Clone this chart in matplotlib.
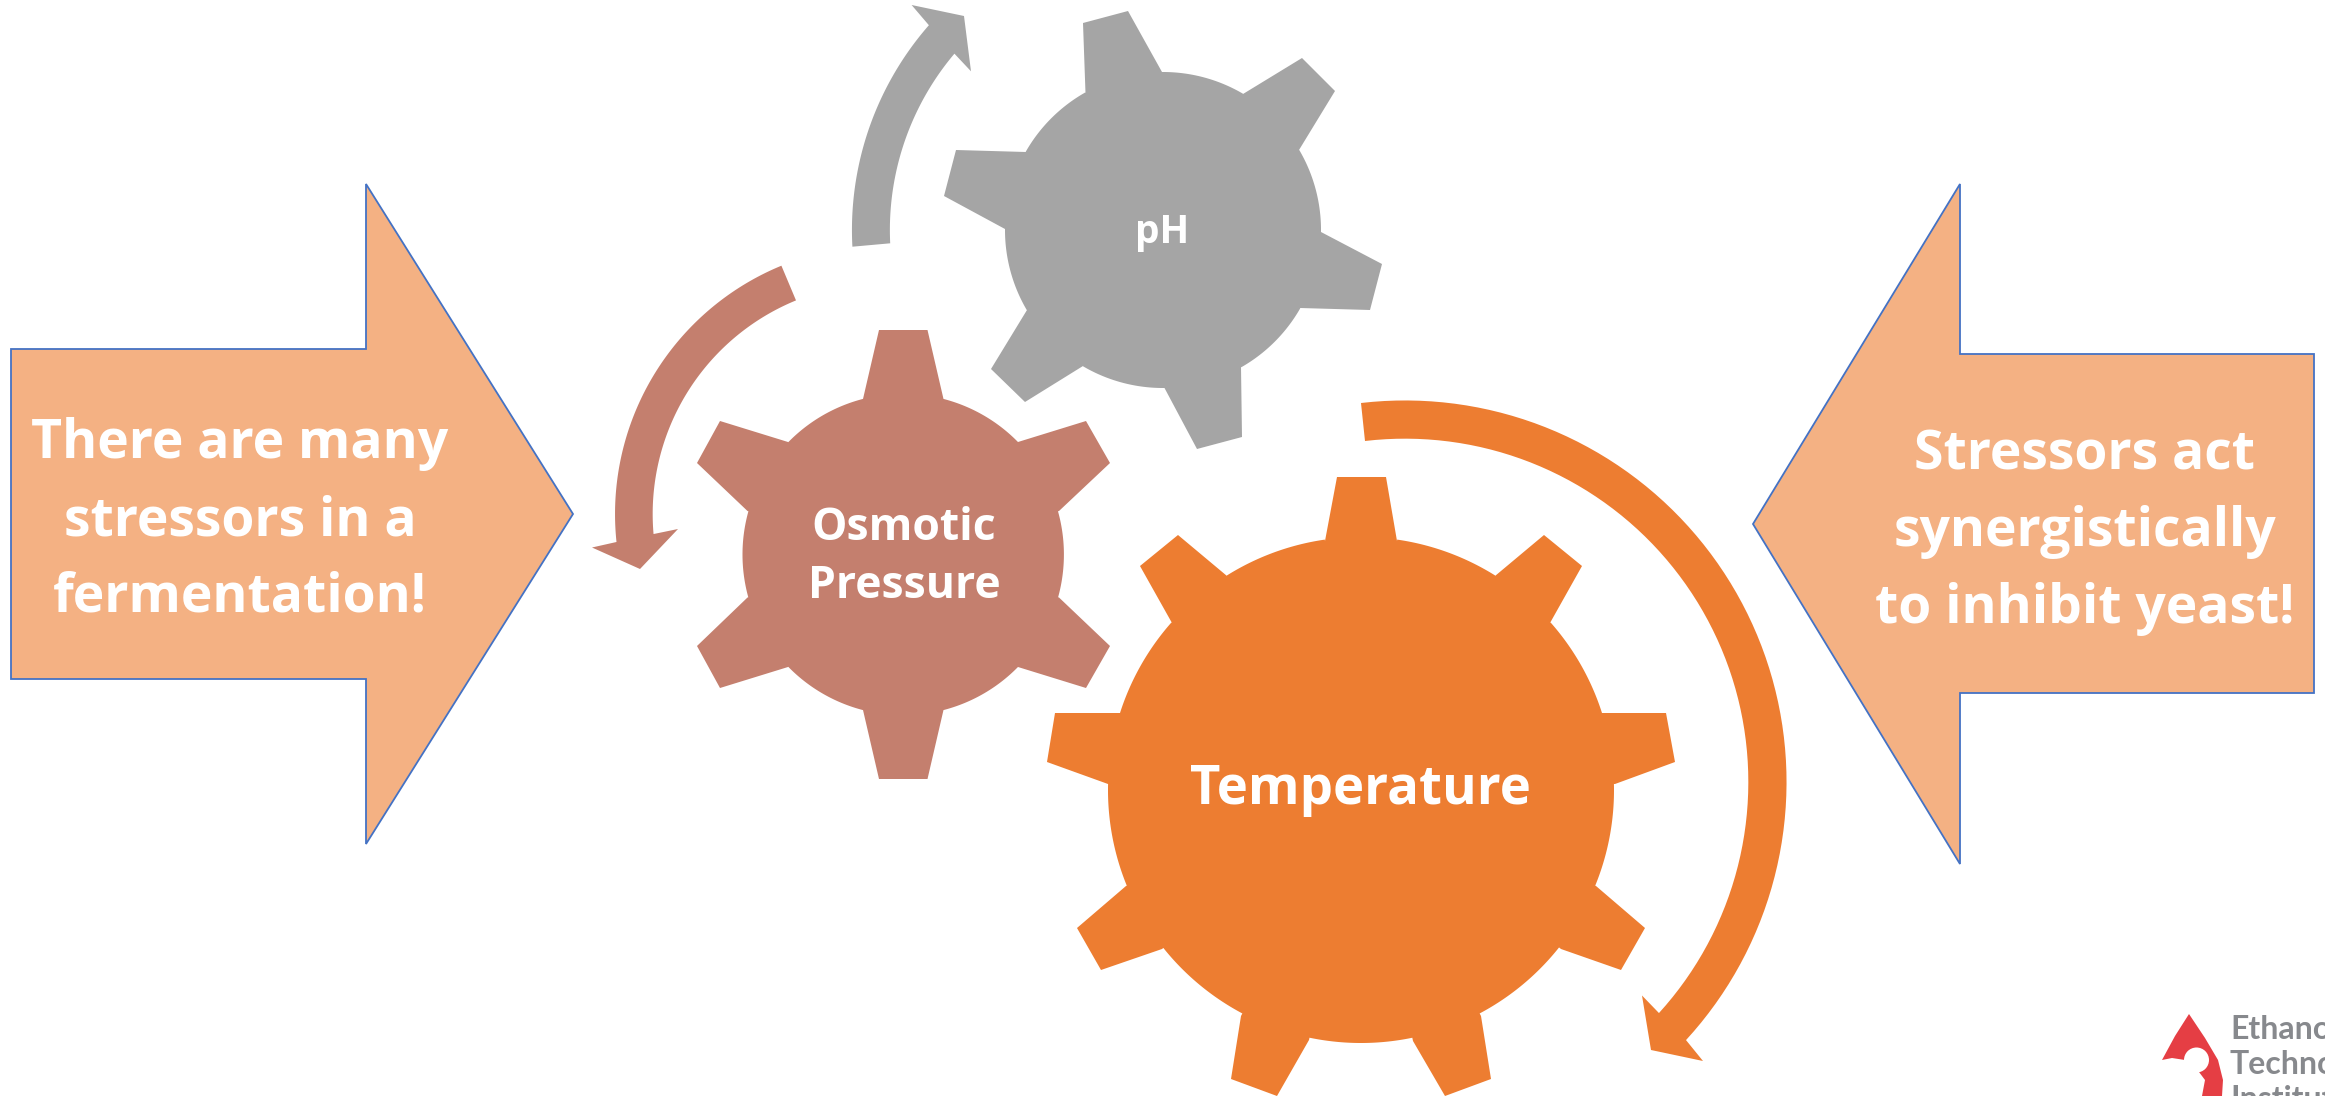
#!/usr/bin/env python

import numpy as np
import matplotlib
matplotlib.use('Agg')
import matplotlib.pyplot as plt
from matplotlib.patches import Circle, Polygon

ORANGE = '#ED7D31'
ROSE = '#C47F6E'
GREY = '#A5A5A5'
PEACH = '#F4B183'
BLUE = '#4472C4'
LOGO_RED = '#E53E44'
LOGO_GREY = '#87898D'

# block arrows, pixel coordinates, y down
left_arrow = [(11, 349), (366, 349), (366, 184), (573, 514), (366, 844), (366, 679), (11, 679)]
right_arrow = [(2314, 354), (1960, 354), (1960, 184), (1753, 524), (1960, 864), (1960, 693), (2314, 693)]

# gear teeth, clockwise, four corners each
temperature_centre = (1361, 790)
temperature_radius = 253
temperature_teeth = [
    [(1325, 541), (1337, 477), (1386, 477), (1397, 541)],
    [(1495, 576), (1544, 535), (1582, 566), (1550, 623)],
    [(1602, 713), (1666, 713), (1675, 762), (1615, 784)],
    [(1596, 886), (1645, 928), (1621, 970), (1561, 949)],
    [(1481, 1016), (1491, 1079), (1445, 1096), (1413, 1041)],
    [(1309, 1040), (1277, 1096), (1231, 1079), (1241, 1016)],
    [(1162, 949), (1101, 970), (1077, 928), (1126, 886)],
    [(1108, 784), (1047, 762), (1055, 713), (1120, 713)],
    [(1172, 623), (1140, 566), (1178, 535), (1227, 576)],
]

osmotic_centre = (903.2, 554.5)
osmotic_radius = 160.7
osmotic_teeth = [
    [(863, 399), (879, 330), (927.5, 330), (943.5, 399)],
    [(1018, 442), (1086, 421), (1110, 463), (1059, 511)],
    [(1059, 597.5), (1110, 646), (1086, 688), (1018, 667)],
    [(943.5, 710), (927.5, 779), (879, 779), (863, 710)],
    [(788, 667), (720, 688), (697, 646), (747.5, 597.5)],
    [(747.5, 511), (697, 463), (720, 421), (788, 442)],
]

ph_centre = (1163, 230)
ph_radius = 158
ph_teeth = [
    [(1085.5, 93), (1083, 23), (1128, 11), (1162, 72)],
    [(1243, 94), (1302, 58), (1335, 91), (1299, 150)],
    [(1321, 232), (1382, 264), (1370, 310), (1300, 308)],
    [(1241, 367), (1242, 437), (1197, 449), (1164.5, 388)],
    [(1083, 366), (1025, 402), (991, 369), (1027, 310)],
    [(1005, 229), (944, 196), (956, 150), (1026, 152)],
]

# curved arrows: ring centre, body ends on the outer and inner edge, arrow head
temperature_arc = {
    'centre': (1405, 782), 'outer': ((1361, 403), (1687, 1041)), 'inner': ((1365, 441), (1660, 1014)),
    'head': [(1703, 1061), (1651, 1050), (1642, 995.5)], 'direction': 1,
}
osmotic_arc = {
    'centre': (883.5, 514), 'outer': ((781.4, 265.7), (616.4, 542)), 'inner': ((796, 300.4), (654, 534)),
    'head': [(592, 547.5), (640, 569), (678, 529)], 'direction': -1,
}
ph_arc = {
    'centre': (1163, 230), 'outer': ((852.4, 246.7), (927.5, 24)), 'inner': ((890.2, 243.3), (954, 53.3)),
    'head': [(911.6, 5), (964, 16), (971, 71.3)], 'direction': 1,
}

left_lines = ['There are many', 'stressors in a', 'fermentation!']
left_baselines = [458, 535.5, 612]
right_lines = ['Stressors act', 'synergistically', 'to inhibit yeast!']
right_baselines = [469.5, 546, 622.5]
osmotic_lines = ['Osmotic', 'Pressure']
osmotic_baselines = [540, 598]
logo_lines = ['Ethanol', 'Technology', 'Institute']
logo_baselines = [1039, 1074, 1109]

logo_drop = [(2189, 1014), (2205, 1038), (2218, 1060), (2223, 1080), (2222, 1096), (2202, 1096),
             (2205, 1080), (2199, 1072), (2185, 1060), (2172, 1058), (2162, 1060), (2175, 1036)]


def arc_points(centre, radius, a0, a1, n=80):
    angles = np.linspace(a0, a1, n)
    return np.column_stack([centre[0] + radius * np.cos(angles), centre[1] + radius * np.sin(angles)])


def angle_of(centre, point):
    return np.arctan2(point[1] - centre[1], point[0] - centre[0])


def draw_gear(ax, centre, radius, teeth, color):
    outline = []
    for i, tooth in enumerate(teeth):
        outline.extend(tooth)
        a0 = angle_of(centre, tooth[-1])
        a1 = angle_of(centre, teeth[(i + 1) % len(teeth)][0])
        if a1 < a0:
            a1 += 2 * np.pi
        outline.extend(map(tuple, arc_points(centre, radius, a0, a1)))
    ax.add_patch(Polygon(outline, closed=True, facecolor=color, edgecolor='none'))


def sweep(centre, start, end, direction):
    a0 = angle_of(centre, start)
    a1 = angle_of(centre, end)
    if direction > 0 and a1 < a0:
        a1 += 2 * np.pi
    if direction < 0 and a1 > a0:
        a1 -= 2 * np.pi
    return a0, a1


def draw_ring_arrow(ax, arc, color):
    centre = arc['centre']
    r_out = np.hypot(arc['outer'][0][0] - centre[0], arc['outer'][0][1] - centre[1])
    r_in = np.hypot(arc['inner'][0][0] - centre[0], arc['inner'][0][1] - centre[1])
    a0, a1 = sweep(centre, arc['outer'][0], arc['outer'][1], arc['direction'])
    b0, b1 = sweep(centre, arc['inner'][0], arc['inner'][1], arc['direction'])
    outline = list(map(tuple, arc_points(centre, r_out, a0, a1)))
    outline += arc['head']
    outline += list(map(tuple, arc_points(centre, r_in, b1, b0)))
    ax.add_patch(Polygon(outline, closed=True, facecolor=color, edgecolor='none'))


def draw_lines(ax, lines, baselines, x, size, color='white'):
    for line, y in zip(lines, baselines):
        ax.text(x, y, line, ha='center', va='baseline', fontsize=size, color=color,
                family='Open Sans', fontweight='bold')


def main():
    fig = plt.figure(figsize=(23.25, 10.96), dpi=100, facecolor='white')
    ax = fig.add_axes([0, 0, 1, 1])
    ax.set_xlim(0, 2325)
    ax.set_ylim(1096, 0)
    ax.axis('off')

    for shape in (left_arrow, right_arrow):
        ax.add_patch(Polygon(shape, closed=True, facecolor=PEACH, edgecolor=BLUE, linewidth=1.3))

    draw_gear(ax, temperature_centre, temperature_radius, temperature_teeth, ORANGE)
    draw_gear(ax, osmotic_centre, osmotic_radius, osmotic_teeth, ROSE)
    draw_gear(ax, ph_centre, ph_radius, ph_teeth, GREY)

    draw_ring_arrow(ax, temperature_arc, ORANGE)
    draw_ring_arrow(ax, osmotic_arc, ROSE)
    draw_ring_arrow(ax, ph_arc, GREY)

    draw_lines(ax, left_lines, left_baselines, 240, 38.5)
    draw_lines(ax, right_lines, right_baselines, 2085, 38.5)
    draw_lines(ax, osmotic_lines, osmotic_baselines, 904, 32)
    draw_lines(ax, ['Temperature'], [804], 1360, 38)
    draw_lines(ax, ['pH'], [243], 1162, 28)

    # logo in the corner, cut off by the edge of the figure
    ax.add_patch(Polygon(logo_drop, closed=True, facecolor=LOGO_RED, edgecolor='none'))
    ax.add_patch(Circle((2196.5, 1060), 12.5, facecolor='white', edgecolor='none'))
    for line, y in zip(logo_lines, logo_baselines):
        ax.text(2230, y, line, ha='left', va='baseline', fontsize=23, color=LOGO_GREY,
                family='Lato', fontweight='bold', clip_on=True)

    fig.savefig('out.png', dpi=100, facecolor='white')
    plt.close(fig)


if __name__ == '__main__':
    main()
